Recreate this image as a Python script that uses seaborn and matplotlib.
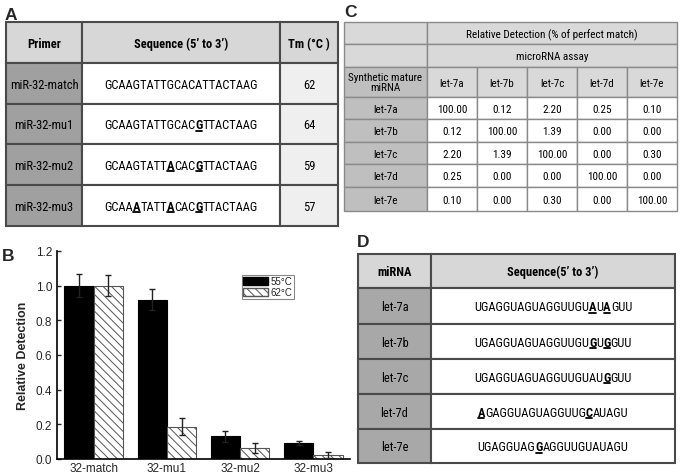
import numpy as np
import pandas as pd
import matplotlib
matplotlib.use("Agg")
import matplotlib.pyplot as plt
from matplotlib.patches import Rectangle, Patch
from matplotlib import font_manager
import seaborn as sns

# ---- panel A: primers
primers = ["miR-32-match", "miR-32-mu1", "miR-32-mu2", "miR-32-mu3"]
primer_seqs = ["GCAAGTATTGCACATTACTAAG", "GCAAGTATTGCACGTTACTAAG",
               "GCAAGTATTACACGTTACTAAG", "GCAAATATTACACGTTACTAAG"]
primer_mut_pos = [[], [13], [9, 13], [4, 9, 13]]
primer_tm = [62, 64, 59, 57]
table_a_header = ["Primer", "Sequence (5\u2019 to 3\u2019)", "Tm (\u00b0C )"]

# ---- panel B: relative detection
bar_groups = ["32-match", "32-mu1", "32-mu2", "32-mu3"]
temps = ["55\u00b0C", "62\u00b0C"]
det_55 = [1.0, 0.92, 0.13, 0.09]
det_55_err = [0.065, 0.058, 0.033, 0.011]
det_62 = [1.0, 0.187, 0.062, 0.023]
det_62_err = [0.06, 0.048, 0.03, 0.02]

# ---- panel C: cross reactivity
assays = ["let-7a", "let-7b", "let-7c", "let-7d", "let-7e"]
rel_detection = [[100.00, 0.12, 2.20, 0.25, 0.10],
                 [0.12, 100.00, 1.39, 0.00, 0.00],
                 [2.20, 1.39, 100.00, 0.00, 0.30],
                 [0.25, 0.00, 0.00, 100.00, 0.00],
                 [0.10, 0.00, 0.30, 0.00, 100.00]]

# ---- panel D: let-7 sequences
mirna_seqs = ["UGAGGUAGUAGGUUGUAUAGUU", "UGAGGUAGUAGGUUGUGUGGUU",
              "UGAGGUAGUAGGUUGUAUGGUU", "AGAGGUAGUAGGUUGCAUAGU",
              "UGAGGUAGGAGGUUGUAUAGU"]
mirna_mut_pos = [[16, 18], [16, 18], [18], [0, 15], [8]]

sns.set_style("ticks")
plt.rcParams["font.family"] = ["Liberation Sans", "DejaVu Sans"]
plt.rcParams["hatch.linewidth"] = 0.7

# the tables use a condensed face; pick one if installed, else shrink
installed = {f.name for f in font_manager.fontManager.ttflist}
NARROW, SCALE = "Liberation Sans", 0.84
for cand in ["Liberation Sans Narrow", "Roboto Condensed", "DejaVu Sans Condensed",
             "Open Sans Condensed"]:
    if cand in installed:
        NARROW, SCALE = cand, 1.0
        break
FA = 9 * SCALE   # tables A and D
FC = 8 * SCALE   # table C
TXT = "#000000"

fig = plt.figure(figsize=(6.81, 4.77), dpi=100)
ax0 = fig.add_axes([0, 0, 1, 1])
ax0.set_xlim(0, 681)
ax0.set_ylim(477, 0)
ax0.axis("off")
renderer = fig.canvas.get_renderer()


def cell(x0, x1, y0, y1, fc, ec="#4a4a4a", lw=1.5):
    ax0.add_patch(Rectangle((x0, y0), x1 - x0, y1 - y0, facecolor=fc,
                            edgecolor=ec, linewidth=lw))


def put(x, y, s, size, weight="normal", va="baseline"):
    if va == "baseline":
        y = y + 0.36 * size * 100 / 72
    ax0.text(x, y, s, fontsize=size, fontweight=weight, ha="center", va=va,
             family=NARROW, color=TXT, linespacing=1.1)


def put_seq(xc, yc, seq, marks, size):
    # split into plain / mutated chunks, lay them out side by side
    chunks = []
    for i, ch in enumerate(seq):
        m = i in marks
        if chunks and chunks[-1][1] == m and not m:
            chunks[-1][0] += ch
        else:
            chunks.append([ch, m])
    base = yc + 0.36 * size * 100 / 72
    items = []
    for s, m in chunks:
        t = ax0.text(0, base, s, fontsize=size, fontweight="bold" if m else "normal",
                     ha="left", va="baseline", family=NARROW, color=TXT)
        w = t.get_window_extent(renderer).width
        items.append((t, w, m))
    x = xc - sum(w for _, w, _ in items) / 2
    for t, w, m in items:
        t.set_x(x)
        if m:
            ax0.plot([x + 0.5, x + w - 0.5], [base + 2.2, base + 2.2], color=TXT, lw=1.3)
        x += w


# panel labels
for lab, (lx, ly) in zip("ABCD", [(5, 20), (2, 261), (344, 17), (357, 247)]):
    ax0.text(lx, ly, lab, fontsize=12.5, fontweight="bold", ha="left", va="baseline")

# ---- table A
ax_x = [6, 82, 280, 338]
ax_y = [23, 64, 105, 145, 186, 227]
for j in range(3):
    cell(ax_x[j], ax_x[j + 1], ax_y[0], ax_y[1], "#d7d7d7")
    put((ax_x[j] + ax_x[j + 1]) / 2, (ax_y[0] + ax_y[1]) / 2, table_a_header[j], FA, "bold")
for i in range(len(primers)):
    y0, y1 = ax_y[i + 1], ax_y[i + 2]
    yc = (y0 + y1) / 2
    cell(ax_x[0], ax_x[1], y0, y1, "#a0a0a0")
    cell(ax_x[1], ax_x[2], y0, y1, "white")
    cell(ax_x[2], ax_x[3], y0, y1, "#efefef")
    put((ax_x[0] + ax_x[1]) / 2, yc, primers[i], FA)
    put_seq((ax_x[1] + ax_x[2]) / 2, yc, primer_seqs[i], primer_mut_pos[i], FA)
    put((ax_x[2] + ax_x[3]) / 2, yc, str(primer_tm[i]), FA)

# ---- table C
cx = [344, 427, 477, 527, 577, 627, 677]
cy = [23, 45, 68, 98, 120, 143, 165, 188, 212]
cec, clw = "#8a8a8a", 1.0
for r, txt in enumerate(["Relative Detection (% of perfect match)", "microRNA assay"]):
    cell(cx[0], cx[1], cy[r], cy[r + 1], "#d9d9d9", cec, clw)
    cell(cx[1], cx[-1], cy[r], cy[r + 1], "#d9d9d9", cec, clw)
    put((cx[1] + cx[-1]) / 2, (cy[r] + cy[r + 1]) / 2, txt, FC)
cell(cx[0], cx[1], cy[2], cy[3], "#bfbfbf", cec, clw)
put((cx[0] + cx[1]) / 2, (cy[2] + cy[3]) / 2, "Synthetic mature\nmiRNA", FC, va="center")
for j, a in enumerate(assays):
    cell(cx[j + 1], cx[j + 2], cy[2], cy[3], "#d9d9d9", cec, clw)
    put((cx[j + 1] + cx[j + 2]) / 2, (cy[2] + cy[3]) / 2, a, FC)
for i, a in enumerate(assays):
    y0, y1 = cy[i + 3], cy[i + 4]
    cell(cx[0], cx[1], y0, y1, "#bfbfbf", cec, clw)
    put((cx[0] + cx[1]) / 2, (y0 + y1) / 2, a, FC)
    for j in range(len(assays)):
        cell(cx[j + 1], cx[j + 2], y0, y1, "white", cec, clw)
        put((cx[j + 1] + cx[j + 2]) / 2, (y0 + y1) / 2, f"{rel_detection[i][j]:.2f}", FC)

# ---- table D
dx = [358, 431, 675]
dy = [255, 289, 325, 360, 395, 430, 464]
cell(dx[0], dx[1], dy[0], dy[1], "#d7d7d7")
cell(dx[1], dx[2], dy[0], dy[1], "#d7d7d7")
put((dx[0] + dx[1]) / 2, (dy[0] + dy[1]) / 2, "miRNA", FA, "bold")
put((dx[1] + dx[2]) / 2, (dy[0] + dy[1]) / 2, "Sequence(5\u2019 to 3\u2019)", FA, "bold")
for i, a in enumerate(assays):
    y0, y1 = dy[i + 1], dy[i + 2]
    cell(dx[0], dx[1], y0, y1, "#a8a8a8")
    cell(dx[1], dx[2], y0, y1, "white")
    put((dx[0] + dx[1]) / 2, (y0 + y1) / 2, a, FA)
    put_seq((dx[1] + dx[2]) / 2, (y0 + y1) / 2, mirna_seqs[i], mirna_mut_pos[i], FA)

# ---- panel B bar chart
df = pd.DataFrame({
    "group": bar_groups * 2,
    "temp": [temps[0]] * len(bar_groups) + [temps[1]] * len(bar_groups),
    "value": det_55 + det_62,
})
axb = fig.add_axes([57 / 681, 17 / 477, 293 / 681, 208 / 477])
axb.patch.set_alpha(0)
sns.barplot(data=df, x="group", y="value", hue="temp", palette=["black", "white"],
            errorbar=None, ax=axb, legend=False)
hatch = "\\\\\\\\"
for p in axb.containers[0]:
    p.set_edgecolor("black")
    p.set_linewidth(0.8)
for p in axb.containers[1]:
    p.set_edgecolor("#555555")
    p.set_hatch(hatch)
    p.set_linewidth(0.8)
for cont, err in zip(axb.containers, [det_55_err, det_62_err]):
    xs = [p.get_x() + p.get_width() / 2 for p in cont]
    ys = [p.get_height() for p in cont]
    axb.errorbar(xs, ys, yerr=err, fmt="none", ecolor="#222222", elinewidth=1,
                 capsize=2.5, capthick=1, zorder=5)

axb.set_xlim(-0.5, 3.5)
axb.set_ylim(0, 1.2)
axb.set_yticks(np.arange(0, 1.21, 0.2))
axb.set_yticklabels([f"{v:.1f}" for v in np.arange(0, 1.21, 0.2)])
axb.set_xlabel("")
axb.set_ylabel("Relative Detection", fontsize=9, fontweight="bold", labelpad=5)
axb.tick_params(axis="y", direction="in", length=3, width=1, labelsize=8.5, pad=3.5)
axb.tick_params(axis="x", length=0, labelsize=8.5, pad=2)
sns.despine(ax=axb)
for s in ["left", "bottom"]:
    axb.spines[s].set_linewidth(1.2)
    axb.spines[s].set_color("black")

handles = [Patch(facecolor="black", edgecolor="black"),
           Patch(facecolor="white", edgecolor="#555555", hatch=hatch)]
leg = axb.legend(handles, temps, loc="upper left", bbox_to_anchor=(0.63, 0.885),
                 fontsize=7, frameon=True, fancybox=False, edgecolor="#888888",
                 framealpha=1, borderpad=0.15, labelspacing=0.1, handlelength=2.6,
                 handleheight=0.85, handletextpad=0.2, borderaxespad=0)
leg.get_frame().set_linewidth(0.8)

fig.savefig("out.png", dpi=100)
